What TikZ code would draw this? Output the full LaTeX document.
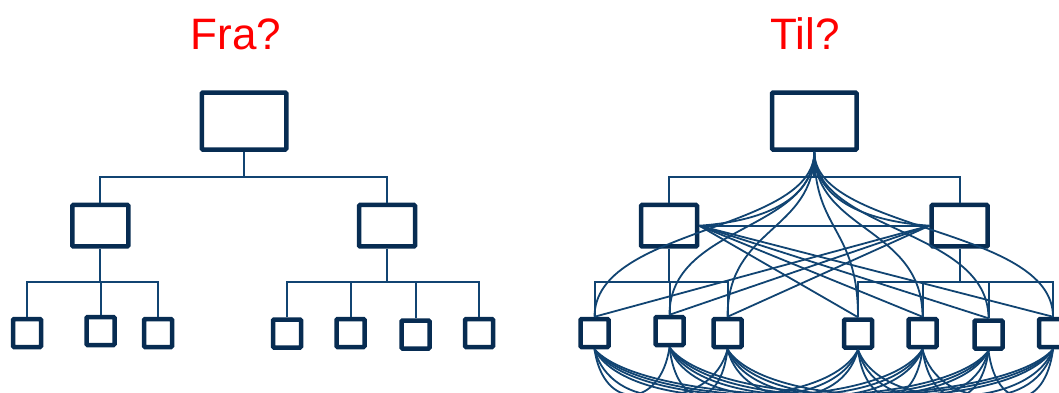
\documentclass[tikz,border=0pt]{standalone}
\usepackage{fontspec}
\setmainfont{Liberation Sans}
\usetikzlibrary{calc}
\definecolor{boxnavy}{RGB}{7,44,82}
\definecolor{linkblue}{RGB}{17,68,114}
\begin{document}
\begin{tikzpicture}[x=1pt,y=1pt,
  unit/.style={draw=boxnavy, line width=4.5pt, rounded corners=1pt, inner sep=0pt},
  topbox/.style={unit, minimum width=84.5pt, minimum height=57pt},
  midbox/.style={unit, minimum width=56pt, minimum height=41.5pt},
  leaf/.style={unit, minimum width=28pt, minimum height=28pt},
  link/.style={draw=linkblue, line width=2pt},
  mesh/.style={draw=linkblue, line width=1.8pt},
  title/.style={text=red, font=\fontsize{44}{50}\selectfont, inner sep=0pt, anchor=base}]
\useasboundingbox (0,0) rectangle (1059,-392);
\clip (0,0) rectangle (1059,-392);

% headings
\node[title] (fra) at (236,-49) {Fra?};
\node[title] (til) at (805,-49) {Til?};

% ---------- hierarchy ----------
\node[topbox] (t1) at (244,-121) {};
\node[midbox] (m1) at (100.3,-225.7) {};
\node[midbox] (m2) at (387,-225.7) {};
\node[leaf] (a1) at (27,-333) {};
\node[leaf] (a2) at (100.5,-331) {};
\node[leaf] (a3) at (158,-333) {};
\node[leaf] (a4) at (287,-333.5) {};
\node[leaf] (a5) at (350.5,-333) {};
\node[leaf] (a6) at (415.5,-334.5) {};
\node[leaf] (a7) at (479,-333) {};

\coordinate (j1) at (244,-176.7);
\coordinate (k1) at (100.3,-282.3);
\coordinate (k2) at (387,-282.3);
\draw[link] (t1.south) -- (j1);
\draw[link] (m1.north) |- (j1) -| (m2.north);
\draw[link] (m1.south) -- (k1);
\draw[link] (a1.north) |- (k1) -| (a3.north);
\draw[link] (a2.north) -- (a2.north |- k1);
\draw[link] (m2.south) -- (k2);
\draw[link] (a4.north) |- (k2) -| (a7.north);
\draw[link] (a5.north) -- (a5.north |- k2);
\draw[link] (a6.north) -- (a6.north |- k2);

% ---------- network ----------
\node[topbox] (t2) at (814.3,-121) {};
\node[midbox] (n1) at (669,-225.7) {};
\node[midbox] (n2) at (959.7,-225.7) {};
\node[leaf] (b1) at (594.5,-333) {};
\node[leaf] (b2) at (669.5,-331) {};
\node[leaf] (b3) at (727.5,-333) {};
\node[leaf] (b4) at (858,-333.5) {};
\node[leaf] (b5) at (922.5,-333) {};
\node[leaf] (b6) at (988.5,-334.5) {};
\node[leaf] (b7) at (1053,-333) {};

\coordinate (j2) at (814.3,-176.7);
\coordinate (k3) at (669,-282.3);
\coordinate (k4) at (959.7,-282.3);
\draw[link] (t2.south) -- (j2);
\draw[link] (n1.north) |- (j2) -| (n2.north);
\draw[link] (n1.south) -- (k3);
\draw[link] (b1.north) |- (k3) -| (b3.north);
\draw[link] (b2.north) -- (b2.north |- k3);
\draw[link] (n2.south) -- (k4);
\draw[link] (b4.north) |- (k4) -| (b7.north);
\draw[link] (b5.north) -- (b5.north |- k4);
\draw[link] (b6.north) -- (b6.north |- k4);

% cross links between the two middle units
\draw[mesh] (n1.east) -- (n2.west);
\foreach \i in {4,...,7} \draw[mesh] (n1.east) -- (b\i.north);
\foreach \i in {1,...,3} \draw[mesh] (n2.west) -- (b\i.north);

% fan from the top unit
\foreach \i in {1,...,7}
  \draw[mesh] (t2.south) .. controls +(0,-80) and +(0,90) .. (b\i.north);
\draw[mesh] (t2.south) .. controls +(0,-45) and +(70,5) .. (n1.east);
\draw[mesh] (t2.south) .. controls +(0,-45) and +(-70,5) .. (n2.west);

% every leaf linked to every other leaf underneath
\foreach \i in {1,...,6}{
  \pgfmathtruncatemacro{\jstart}{\i+1}
  \foreach \j in {\jstart,...,7}{
    \draw[mesh] let \p1=(b\i.south), \p2=(b\j.south), \n1={0.12*(\x2-\x1)} in
      (\p1) .. controls (\x1+\n1,\y1-62pt) and (\x2-\n1,\y2-62pt) .. (\p2);
  }
}
\end{tikzpicture}
\end{document}
